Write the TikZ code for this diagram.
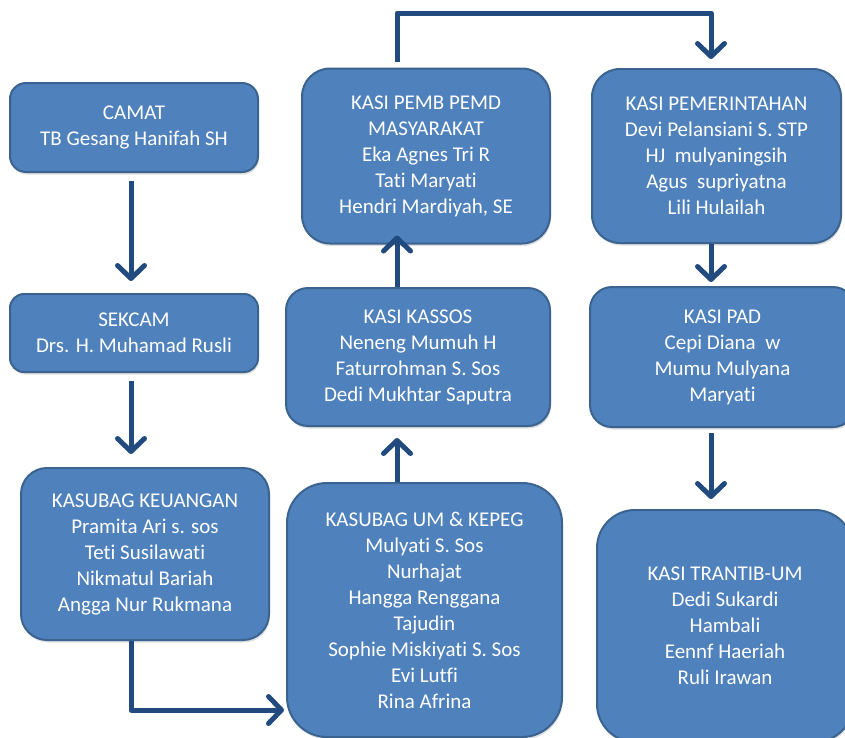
\documentclass[tikz,border=0pt]{standalone}
\usepackage{fontspec}
\setmainfont[Ligatures={NoCommon}]{Carlito}
\usetikzlibrary{arrows.meta,shadows}
\definecolor{boxfill}{HTML}{4F81BD}
\definecolor{boxline}{HTML}{3A6390}
\definecolor{arrowc}{HTML}{214B7E}
\begin{document}
\begin{tikzpicture}[x=1pt,y=-1pt,
  box/.style={draw=boxline, line width=2pt, fill=boxfill, text=white,
    align=center, font=\fontsize{21}{26}\selectfont, inner sep=0pt,
    drop shadow={opacity=0.25, shadow xshift=1pt, shadow yshift=-2.5pt}},
  arr/.style={draw=arrowc, line width=5pt, line join=round,
    -{Straight Barb[length=13pt,width=27pt,line width=5pt,round]}}]
\useasboundingbox (0,0) rectangle (845,737);
\clip (0,0) rectangle (845,737);
\coordinate (colA) at (131,0);
\coordinate (colB) at (397,0);
\coordinate (colC) at (711,0);
\coordinate (topY) at (0,13);
\coordinate (botY) at (0,710);

\node[box, minimum width=248, minimum height=89, rounded corners=16] (camat) at (134,127.5)
  {CAMAT\\TB Gesang Hanifah SH};
\node[box, minimum width=248, minimum height=78, rounded corners=14] (sekcam) at (134,333)
  {SEKCAM\\Drs. H. Muhamad Rusli};
\node[box, minimum width=248, minimum height=172, rounded corners=26] (keuangan) at (145,554)
  {KASUBAG KEUANGAN\\Pramita Ari s. sos\\Teti Susilawati\\Nikmatul Bariah\\Angga Nur Rukmana};
\node[box, minimum width=275, minimum height=254, rounded corners=40] (um) at (424.5,610)
  {KASUBAG UM \& KEPEG\\Mulyati S. Sos\\Nurhajat\\Hangga Renggana\\Tajudin\\Sophie Miskiyati S. Sos\\Evi Lutfi\\Rina Afrina};
\node[box, minimum width=264, minimum height=138, rounded corners=22] (kassos) at (418,357)
  {KASI KASSOS\\Neneng Mumuh H\\Faturrohman S. Sos\\Dedi Mukhtar Saputra};
\node[box, minimum width=248, minimum height=175, rounded corners=28] (pemd) at (426,156)
  {KASI PEMB PEMD\\MASYARAKAT\\Eka Agnes Tri R\\Tati Maryati\\Hendri Mardiyah, SE};
\node[box, minimum width=249, minimum height=174, rounded corners=28] (pemerintahan) at (716.5,156)
  {KASI PEMERINTAHAN\\Devi Pelansiani S. STP\\HJ\ \ mulyaningsih\\Agus\ \ supriyatna\\Lili Hulailah};
\node[box, minimum width=265, minimum height=140, rounded corners=22] (pad) at (722.5,357)
  {KASI PAD\\Cepi Diana\ \ w\\Mumu Mulyana\\Maryati};
\node[box, minimum width=256, minimum height=232, rounded corners=38] (trantib) at (725,626)
  {KASI TRANTIB-UM\\Dedi Sukardi\\Hambali\\Eennf Haeriah\\Ruli Irawan};

\draw[arr] ([yshift=-8pt]camat.south -| colA) -- ([yshift=12pt]sekcam.north -| colA);
\draw[arr] ([yshift=-8pt]sekcam.south -| colA) -- ([yshift=13pt]keuangan.north -| colA);
\draw[arr] (keuangan.south -| colA) -- (colA |- botY) -- ([xshift=-2pt]um.west |- botY);
\draw[arr] (um.north -| colB) -- ([yshift=-11pt]kassos.south -| colB);
\draw[arr] (kassos.north -| colB) -- ([yshift=9pt]pemd.south -| colB);
\draw[arr] ([yshift=6pt]pemd.north -| colB) -- (colB |- topY) -- (colC |- topY)
  -- ([yshift=9pt]pemerintahan.north -| colC);
\draw[arr] (pemerintahan.south -| colC) -- ([yshift=4pt]pad.north -| colC);
\draw[arr] ([yshift=-5pt]pad.south -| colC) -- ([yshift=10pt]trantib.north -| colC);
\end{tikzpicture}
\end{document}
